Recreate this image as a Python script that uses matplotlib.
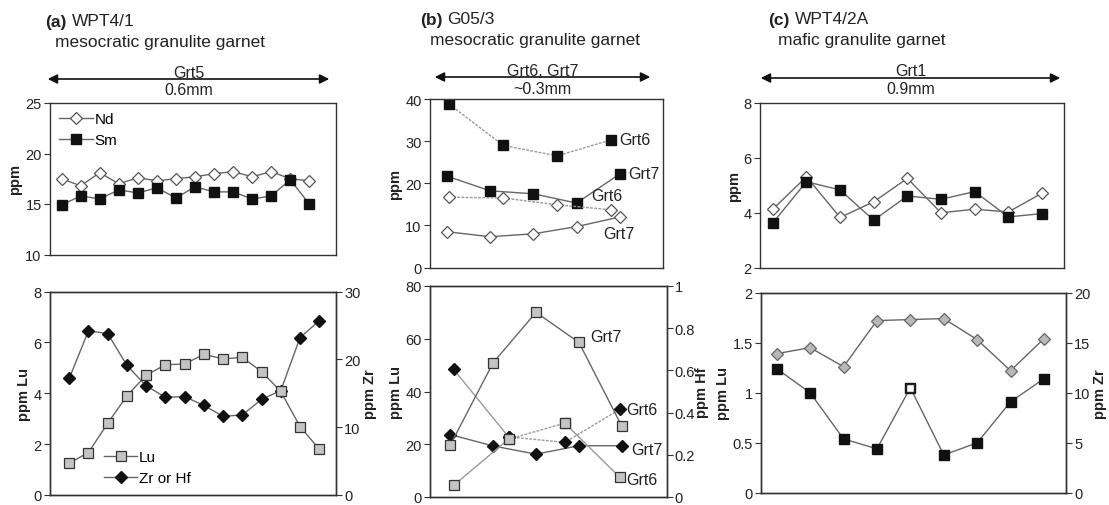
import numpy as np
import matplotlib
matplotlib.use("Agg")
import matplotlib.pyplot as plt

plt.rcParams["font.family"] = ["Liberation Sans", "DejaVu Sans"]

# ─── data ──────────────────────────────────────────────────────────────
# (a) WPT4/1, Grt5 traverse
a_nd = [17.5, 16.8, 18.1, 17.0, 17.6, 17.3, 17.5, 17.7, 18.0, 18.2, 17.7, 18.2, 17.5, 17.3]
a_sm = [14.9, 15.8, 15.5, 16.4, 16.1, 16.6, 15.6, 16.7, 16.2, 16.2, 15.5, 15.8, 17.4, 15.0]
a_lu = [1.25, 1.67, 2.82, 3.90, 4.71, 5.12, 5.15, 5.53, 5.35, 5.41, 4.85, 4.07, 2.69, 1.80]
a_zr = [17.2, 24.2, 23.8, 19.1, 16.1, 14.4, 14.5, 13.2, 11.6, 11.8, 14.1, 15.4, 23.2, 25.7]

# (b) G05/3, Grt6 and Grt7 traverses
b_x7_top = [0, 1, 2, 3, 4]
b_x6_top = [0.05, 1.3, 2.55, 3.8]
b_sm6 = [38.8, 29.0, 26.5, 30.3]
b_sm7 = [21.7, 18.2, 17.5, 15.3, 22.2]
b_nd6 = [16.7, 16.5, 14.9, 13.7]
b_nd7 = [8.5, 7.3, 8.0, 9.7, 12.0]
b_x7_bot = [0, 1, 2, 3, 4]
b_x6_bot = [0.08, 1.36, 2.67, 3.95]
b_lu7 = [19.6, 50.9, 70.0, 58.6, 26.8]
b_lu6 = [4.4, 21.9, 28.0, 7.5]
b_hf7 = [0.296, 0.242, 0.203, 0.243, 0.243]
b_hf6 = [0.605, 0.285, 0.259, 0.415]

# (c) WPT4/2A, Grt1 traverse
c_nd = [4.12, 5.30, 3.82, 4.39, 5.24, 3.99, 4.12, 4.02, 4.70]
c_sm = [3.62, 5.12, 4.82, 3.72, 4.60, 4.48, 4.76, 3.84, 3.96]
c_zr = [13.9, 14.5, 12.6, 17.2, 17.3, 17.4, 15.3, 12.2, 15.4]
c_lu = [1.24, 1.00, 0.54, 0.44, 1.05, 0.38, 0.50, 0.91, 1.14]
c_lu_open = [False, False, False, False, True, False, False, False, False]

W, H = 1109, 506
fig = plt.figure(figsize=(W / 100, H / 100), dpi=100)
TXT = "#222222"
LINE = "#666666"


def px_axes(l, t, r, b):
    return fig.add_axes([l / W, 1 - b / H, (r - l) / W, (b - t) / H])


def style(ax, right=False):
    for s in ax.spines.values():
        s.set_color("#333333")
        s.set_linewidth(1.0)
    ax.set_xticks([])
    ax.tick_params(axis="y", direction="out", length=4, width=0.8,
                   colors="#333333", labelcolor=TXT, labelsize=10.5, pad=2)


def fx(x):
    return x / W


def fy(y):
    return 1 - y / H


def header(x0, y0, tag, name, desc, ax_l, ax_r, y_arrow, lab1, lab2):
    fig.text(fx(x0), fy(y0), tag, fontsize=12.5, fontweight="bold", color=TXT, va="center")
    fig.text(fx(x0 + 27), fy(y0), name, fontsize=12.5, color=TXT, va="center")
    fig.text(fx(x0 + 10), fy(y0 + 21), desc, fontsize=12.5, color=TXT, va="center")
    fig.add_artist(matplotlib.patches.FancyArrowPatch(
        (fx(ax_l), fy(y_arrow)), (fx(ax_r), fy(y_arrow)), transform=fig.transFigure,
        arrowstyle="<|-|>", mutation_scale=14, color="#111111", lw=1.2))
    xm = (ax_l + ax_r) / 2
    fig.text(fx(xm), fy(y_arrow - 7), lab1, fontsize=11.5, color=TXT, ha="center", va="center")
    fig.text(fx(xm), fy(y_arrow + 11), lab2, fontsize=11.5, color=TXT, ha="center", va="center")


open_dia = dict(marker="D", ms=6.5, mfc="white", mec="#555555", mew=0.9)
blk_sq = dict(marker="s", ms=7, mfc="#111111", mec="#111111")
gray_sq = dict(marker="s", ms=7, mfc="#c4c4c4", mec="#333333", mew=0.9)
blk_dia = dict(marker="D", ms=6, mfc="#111111", mec="#111111")
gray_dia = dict(marker="D", ms=6.5, mfc="#b8b8b8", mec="#666666", mew=0.9)

# ─── (a) ──────────────────────────────────────────────────────────────
header(45, 22, "(a)", "WPT4/1", "mesocratic granulite garnet", 45, 332, 80, "Grt5", "0.6mm")

ax = px_axes(50, 104, 336, 255.5)
xa = np.arange(len(a_nd))
ax.plot(xa, a_nd, color=LINE, lw=1, label="Nd", **open_dia)
ax.plot(xa, a_sm, color=LINE, lw=1, label="Sm", **blk_sq)
ax.set_ylim(10, 25)
ax.set_yticks([10, 15, 20, 25])
ax.set_xlim(-0.61, 14.4)
ax.set_ylabel("ppm", fontsize=10.5, fontweight="bold", color=TXT, labelpad=2)
style(ax)
ax.legend(loc="upper left", frameon=False, fontsize=11, handlelength=2.2,
          handletextpad=0.1, borderaxespad=0.2, labelspacing=0.45)

ax = px_axes(50, 292.5, 336, 496)
ax2 = ax.twinx()
xb = np.arange(len(a_lu))
l1, = ax.plot(xb, a_lu, color=LINE, lw=1, label="Lu", zorder=3, **gray_sq)
l2, = ax2.plot(xb, a_zr, color=LINE, lw=1, label="Zr or Hf", **blk_dia)
ax.set_ylim(0, 8)
ax.set_yticks([0, 2, 4, 6, 8])
ax2.set_ylim(0, 30)
ax2.set_yticks([0, 10, 20, 30])
ax.set_xlim(-1.0, 13.87)
ax.set_ylabel("ppm Lu", fontsize=10.5, fontweight="bold", color=TXT, labelpad=2)
ax2.set_ylabel("ppm Zr", fontsize=10.5, fontweight="bold", color=TXT, labelpad=2)
style(ax)
style(ax2)
ax.set_zorder(ax2.get_zorder() + 1)
ax.patch.set_visible(False)
ax.legend(handles=[l1, l2], loc="lower left", bbox_to_anchor=(0.14, -0.02), frameon=False,
          fontsize=11, handlelength=2.2, handletextpad=0.1, labelspacing=0.45)

# ─── (b) ──────────────────────────────────────────────────────────────
header(420, 20, "(b)", "G05/3", "mesocratic granulite garnet", 432, 653, 78, "Grt6, Grt7", "~0.3mm")

ax = px_axes(430, 100, 663, 268.5)
ax.plot(b_x6_top, b_sm6, color="#9a9a9a", lw=1, ls=(0, (2, 1)), **blk_sq)
ax.plot(b_x7_top, b_sm7, color=LINE, lw=1, **blk_sq)
ax.plot(b_x6_top, b_nd6, color="#9a9a9a", lw=1, ls=(0, (2, 1)), **open_dia)
ax.plot(b_x7_top, b_nd7, color=LINE, lw=1, **open_dia)
ax.set_ylim(0, 40)
ax.set_yticks([0, 10, 20, 30, 40])
ax.set_xlim(-0.39, 5.0)
ax.set_ylabel("ppm", fontsize=10.5, fontweight="bold", color=TXT, labelpad=2)
style(ax)
for x, y, s in [(b_x6_top[-1], b_sm6[-1], "Grt6"), (b_x7_top[-1], b_sm7[-1], "Grt7")]:
    ax.annotate(s, (x, y), xytext=(6, 0), textcoords="offset points",
                fontsize=11.5, color=TXT, va="center")
ax.annotate("Grt6", (b_x6_top[-1], b_nd6[-1]), xytext=(-14, 10), textcoords="offset points",
            fontsize=11.5, color=TXT, va="center")
ax.annotate("Grt7", (b_x7_top[-1], b_nd7[-1]), xytext=(-12, -12), textcoords="offset points",
            fontsize=11.5, color=TXT, va="center")

ax = px_axes(430, 287, 666.5, 498)
ax2 = ax.twinx()
ax.plot(b_x7_bot, b_lu7, color=LINE, lw=1, zorder=3, **gray_sq)
ax.plot(b_x6_bot[:2], b_lu6[:2], color="#9a9a9a", lw=1, zorder=3, **gray_sq)
ax.plot(b_x6_bot[1:3], b_lu6[1:3], color="#9a9a9a", lw=1, ls=(0, (2, 1)), zorder=3, **gray_sq)
ax.plot(b_x6_bot[2:], b_lu6[2:], color="#9a9a9a", lw=1, zorder=3, **gray_sq)
ax2.plot(b_x7_bot, b_hf7, color=LINE, lw=1, **blk_dia)
ax2.plot(b_x6_bot[:2], b_hf6[:2], color="#9a9a9a", lw=1, **blk_dia)
ax2.plot(b_x6_bot[1:], b_hf6[1:], color="#9a9a9a", lw=1, ls=(0, (2, 1)), **blk_dia)
ax.set_ylim(0, 80)
ax.set_yticks([0, 20, 40, 60, 80])
ax2.set_ylim(0, 1)
ax2.set_yticks([0, 0.2, 0.4, 0.6, 0.8, 1])
ax2.set_yticklabels(["0", "0.2", "0.4", "0.6", "0.8", "1"])
ax.set_xlim(-0.47, 5.04)
ax.set_ylabel("ppm Lu", fontsize=10.5, fontweight="bold", color=TXT, labelpad=2)
ax2.set_ylabel("ppm Hf", fontsize=10.5, fontweight="bold", color=TXT, labelpad=0)
style(ax)
style(ax2)
ax.set_zorder(ax2.get_zorder() + 1)
ax.patch.set_visible(False)
ax.annotate("Grt7", (b_x7_bot[3], b_lu7[3]), xytext=(8, 4), textcoords="offset points",
            fontsize=11.5, color=TXT, va="center")
ax.annotate("Grt6", (b_x6_bot[-1], b_lu6[-1]), xytext=(5, -2), textcoords="offset points",
            fontsize=11.5, color=TXT, va="center")
ax2.annotate("Grt6", (b_x6_bot[-1], b_hf6[-1]), xytext=(5, 0), textcoords="offset points",
             fontsize=11.5, color=TXT, va="center")
ax2.annotate("Grt7", (b_x7_bot[-1], b_hf7[-1]), xytext=(7, -3), textcoords="offset points",
             fontsize=11.5, color=TXT, va="center")

# ─── (c) ──────────────────────────────────────────────────────────────
header(768, 20, "(c)", "WPT4/2A", "mafic granulite garnet", 758, 1063, 79, "Grt1", "0.9mm")

ax = px_axes(760, 103.5, 1063.5, 268.5)
xc = np.arange(len(c_nd))
ax.plot(xc, c_nd, color=LINE, lw=1, **open_dia)
ax.plot(xc, c_sm, color=LINE, lw=1, **blk_sq)
ax.set_ylim(2, 8)
ax.set_yticks([2, 4, 6, 8])
ax.set_xlim(-0.38, 8.64)
ax.set_ylabel("ppm", fontsize=10.5, fontweight="bold", color=TXT, labelpad=2)
style(ax)

ax = px_axes(761, 293.5, 1066, 494)
ax2 = ax.twinx()
ax2.plot(xc, c_zr, color=LINE, lw=1, **gray_dia)
ax.plot(xc, c_lu, color=LINE, lw=1, zorder=3, **blk_sq)
opn = [i for i, o in enumerate(c_lu_open) if o]
ax.plot(xc[opn], np.array(c_lu)[opn], ls="none", marker="s", ms=5.5, mfc="white",
        mec="#222222", mew=1, zorder=4)
ax.set_ylim(0, 2)
ax.set_yticks([0, 0.5, 1, 1.5, 2])
ax.set_yticklabels(["0", "0.5", "1", "1.5", "2"])
ax2.set_ylim(0, 20)
ax2.set_yticks([0, 5, 10, 15, 20])
ax.set_xlim(-0.47, 8.66)
ax.set_ylabel("ppm Lu", fontsize=10.5, fontweight="bold", color=TXT, labelpad=2)
ax2.set_ylabel("ppm Zr", fontsize=10.5, fontweight="bold", color=TXT, labelpad=2)
style(ax)
style(ax2)
ax.set_zorder(ax2.get_zorder() + 1)
ax.patch.set_visible(False)

fig.savefig("out.png", dpi=100, facecolor="white")
